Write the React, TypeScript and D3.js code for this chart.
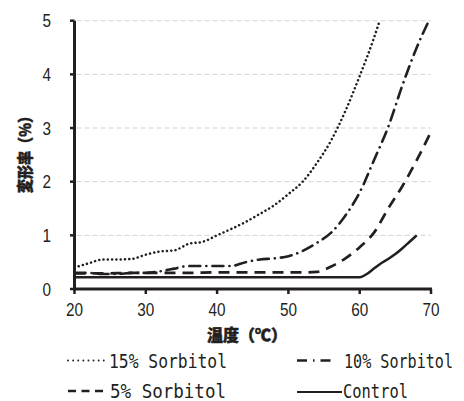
import React from "react";
import * as d3 from "d3";

const temps15 = [20, 22, 24, 26, 28, 30, 32, 34, 36, 38, 40, 42, 44, 46, 48, 50, 52, 54, 56, 58, 60, 62, 62.8];
const vals15 = [0.40, 0.48, 0.55, 0.55, 0.56, 0.64, 0.70, 0.72, 0.84, 0.88, 1.0, 1.12, 1.25, 1.40, 1.56, 1.77, 2.0, 2.35, 2.77, 3.32, 3.97, 4.68, 5.0];

const temps10 = [20, 22, 24, 26, 28, 30, 32, 34, 36, 38, 40, 42, 44, 46, 48, 50, 52, 54, 56, 58, 60, 62, 64, 66, 68, 69.7];
const vals10 = [0.30, 0.30, 0.28, 0.28, 0.30, 0.30, 0.33, 0.38, 0.43, 0.43, 0.43, 0.43, 0.50, 0.55, 0.57, 0.61, 0.71, 0.86, 1.05, 1.37, 1.80, 2.40, 3.02, 3.80, 4.50, 5.0];

const temps5 = [20, 24, 28, 32, 36, 40, 44, 48, 52, 54, 56, 58, 60, 62, 64, 66, 68, 70];
const vals5 = [0.29, 0.29, 0.30, 0.30, 0.30, 0.31, 0.31, 0.31, 0.31, 0.32, 0.42, 0.57, 0.78, 1.05, 1.50, 1.92, 2.40, 2.93];

const tempsC = [20, 30, 40, 50, 60, 61, 62, 63, 64, 65, 66, 67, 68];
const valsC = [0.22, 0.22, 0.22, 0.22, 0.22, 0.28, 0.38, 0.48, 0.56, 0.65, 0.76, 0.88, 1.0];

const xTicks = [20, 30, 40, 50, 60, 70];
const yTicks = [0, 1, 2, 3, 4, 5];
const xTitle = "温度（℃）";
const yTitle = "変形率（%）";
const legendLabels = ["15% Sorbitol", "10% Sorbitol", "5% Sorbitol", "Control"];

const INK = "#231f20";
const CJK = "'Noto Sans CJK JP', 'Noto Sans CJK SC', sans-serif";
const MONO = "DejaVu Sans Mono, monospace";

function LegendText({ x, y, len, children }: { x: number; y: number; len: number; children: string }) {
  return (
    <text
      transform={`translate(${x},${y}) scale(1,1.2)`}
      fontFamily={MONO}
      fontSize={16}
      fill={INK}
      textLength={len}
      lengthAdjust="spacingAndGlyphs"
    >
      {children}
    </text>
  );
}

export default function App() {
  const x = d3.scaleLinear().domain([20, 70]).range([74.5, 431]);
  const y = d3.scaleLinear().domain([0, 5]).range([289, 20.7]);
  const line = d3
    .line<[number, number]>()
    .x((d) => x(d[0]))
    .y((d) => y(d[1]))
    .curve(d3.curveMonotoneX);
  const zip = (a: number[], b: number[]) => a.map((t, i) => [t, b[i]] as [number, number]);

  const series = [
    { d: zip(temps15, vals15), dash: "0.1 4.2", cap: "round" as const, w: 2.5 },
    { d: zip(temps10, vals10), dash: "11 6 0.1 6", cap: "round" as const, w: 2.6 },
    { d: zip(temps5, vals5), dash: "11 7", cap: "butt" as const, w: 2.7 },
    { d: zip(tempsC, valsC), dash: "none", cap: "butt" as const, w: 2.5 },
  ];

  const [xMin, xMax] = x.range();

  return (
    <svg width={464} height={401} style={{ position: "absolute", left: 0, top: 0, background: "#fff" }}>
      <rect width={464} height={401} fill="#fff" />
      <defs>
        <clipPath id="plot">
          <rect x={xMin} y={y(5) - 1} width={xMax - xMin + 3} height={y(0) - y(5) + 1} />
        </clipPath>
      </defs>
      {yTicks.slice(1).map((t) => (
        <line key={"g" + t} x1={xMin + 2} x2={xMax} y1={y(t)} y2={y(t)} stroke="#d4d4d4" strokeWidth={1} strokeDasharray="5 3" />
      ))}
      <g clipPath="url(#plot)">
        {series.map((s, i) => (
          <path
            key={i}
            d={line(s.d) || ""}
            fill="none"
            stroke={INK}
            strokeWidth={s.w}
            strokeDasharray={s.dash}
            strokeLinecap={s.cap}
          />
        ))}
      </g>
      <line x1={xMin} x2={xMin} y1={y(5)} y2={y(0) + 1.5} stroke={INK} strokeWidth={3} />
      <line x1={xMin - 1.5} x2={xMax + 1} y1={y(0)} y2={y(0)} stroke={INK} strokeWidth={3} />
      {yTicks.map((t) => (
        <g key={"y" + t}>
          <line x1={xMin - 4.5} x2={xMin} y1={y(t)} y2={y(t)} stroke={INK} strokeWidth={2.5} />
          <text
            transform={`translate(51,${y(t) + 6.5}) scale(0.85,1)`}
            textAnchor="end"
            fontFamily="Liberation Sans, Arial, sans-serif"
            fontSize={18}
            fill={INK}
          >
            {t}
          </text>
        </g>
      ))}
      {xTicks.map((t) => (
        <g key={"x" + t}>
          <line x1={x(t)} x2={x(t)} y1={y(0)} y2={y(0) + 5} stroke={INK} strokeWidth={2.5} />
          <text
            transform={`translate(${x(t)},316) scale(0.85,1)`}
            textAnchor="middle"
            fontFamily="Liberation Sans, Arial, sans-serif"
            fontSize={18}
            fill={INK}
          >
            {t}
          </text>
        </g>
      ))}
      <text x={247} y={341} textAnchor="middle" fontFamily={CJK} fontWeight={900} fontSize={16} fill={INK} stroke={INK} strokeWidth={0.5}>
        {xTitle}
      </text>
      <text
        transform="translate(31,151) rotate(-90)"
        textAnchor="middle"
        fontFamily={CJK}
        fontWeight={900}
        fontSize={16}
        fill={INK}
        stroke={INK}
        strokeWidth={0.5}
        textLength={84}
        lengthAdjust="spacingAndGlyphs"
      >
        {yTitle}
      </text>
      <line x1={68} x2={107} y1={360.5} y2={360.5} stroke={INK} strokeWidth={1.8} strokeDasharray="0.1 5" strokeLinecap="round" />
      <LegendText x={109} y={368} len={118}>{legendLabels[0]}</LegendText>
      <line x1={297} x2={334} y1={360.5} y2={360.5} stroke={INK} strokeWidth={2.4} strokeDasharray="10 6 1.5 6" />
      <LegendText x={344} y={368} len={109}>{legendLabels[1]}</LegendText>
      <line x1={68} x2={107} y1={391} y2={391} stroke={INK} strokeWidth={2.4} strokeDasharray="8 5.5" />
      <LegendText x={110} y={398} len={116}>{legendLabels[2]}</LegendText>
      <line x1={297} x2={342} y1={392} y2={392} stroke={INK} strokeWidth={2.2} />
      <LegendText x={343} y={398} len={65}>{legendLabels[3]}</LegendText>
    </svg>
  );
}
